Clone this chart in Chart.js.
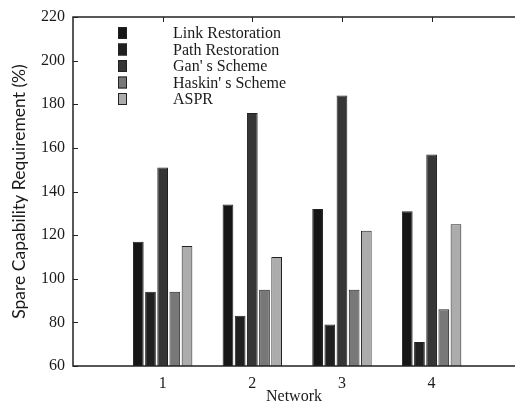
<!DOCTYPE html>
<html>
<head>
<meta charset="utf-8">
<script src="https://cdn.jsdelivr.net/npm/chart.js@4/dist/chart.umd.min.js"></script>
<style>
  html, body { margin: 0; padding: 0; background: #fff; }
  #wrap { width: 515px; height: 406px; position: relative; }
</style>
</head>
<body>
<div id="wrap"><canvas id="chart"></canvas></div>
<script>
const networks = [1, 2, 3, 4];
const seriesNames = ["Link Restoration", "Path Restoration", "Gan' s Scheme", "Haskin' s Scheme", "ASPR"];
const linkRestoration = [117, 134, 132, 131];
const pathRestoration = [94, 83, 79, 71];
const gansScheme = [151, 176, 184, 157];
const haskinsScheme = [94, 95, 95, 86];
const aspr = [115, 110, 122, 125];
const yTicks = [60, 80, 100, 120, 140, 160, 180, 200, 220];

const seriesValues = [linkRestoration, pathRestoration, gansScheme, haskinsScheme, aspr];
const fills = ["#161616", "#202020", "#363636", "#787878", "#acacac"];

const serif = "'Liberation Serif', 'Times New Roman', serif";

// frame, inward ticks and the boxed legend
const framePlugin = {
  id: "frame",
  afterDraw(chart) {
    const ctx = chart.ctx;
    const a = chart.chartArea;
    const xs = chart.scales.x, ys = chart.scales.y;
    ctx.save();
    ctx.strokeStyle = "#222";
    ctx.lineWidth = 1.5;
    ctx.beginPath();
    ctx.moveTo(a.right, a.top); ctx.lineTo(a.left, a.top);
    ctx.lineTo(a.left, a.bottom); ctx.lineTo(a.right, a.bottom);
    ctx.stroke();
    ctx.lineWidth = 1;
    ctx.beginPath();
    yTicks.forEach(v => {
      const py = Math.round(ys.getPixelForValue(v)) + 0.5;
      ctx.moveTo(a.left, py); ctx.lineTo(a.left + 5, py);
    });
    networks.forEach(n => {
      const px = Math.round(xs.getPixelForValue(n)) + 0.5;
      ctx.moveTo(px, a.top); ctx.lineTo(px, a.top + 5);
    });
    ctx.stroke();

    // legend
    ctx.font = "16px " + serif;
    ctx.textBaseline = "middle";
    chart.data.datasets.forEach((ds, i) => {
      const cy = 33 + i * 16.5;
      ctx.fillStyle = ds.backgroundColor;
      ctx.fillRect(118, cy - 6, 9, 12);
      ctx.strokeStyle = "#222";
      ctx.strokeRect(118.5, cy - 5.5, 8, 11);
      ctx.fillStyle = "#1a1a1a";
      ctx.fillText(ds.label, 173, cy + 1);
    });
    ctx.restore();
  }
};

new Chart(document.getElementById("chart"), {
  type: "bar",
  data: {
    datasets: seriesNames.map((name, i) => ({
      label: name,
      data: networks.map((n, j) => ({ x: n, y: seriesValues[i][j] })),
      backgroundColor: fills[i],
      borderColor: "#222",
      borderWidth: 1,
      categoryPercentage: 0.73,
      barPercentage: 0.88
    }))
  },
  options: {
    responsive: true,
    maintainAspectRatio: false,
    animation: false,
    layout: { padding: { top: 17, right: 0, left: 0, bottom: 0 } },
    plugins: {
      legend: { display: false },
      tooltip: { enabled: false }
    },
    scales: {
      x: {
        type: "linear",
        offset: false,
        min: 0,
        max: 4.93,
        grid: { display: false, drawTicks: false, offset: false },
        border: { display: false },
        ticks: {
          stepSize: 1,
          padding: 8,
          color: "#1a1a1a",
          font: { family: serif, size: 16 },
          callback: v => (Number.isInteger(v) && v > 0 ? String(v) : "")
        },
        title: {
          display: true,
          text: "Network",
          color: "#1a1a1a",
          font: { family: serif, size: 16 },
          padding: 0
        },
        afterFit: s => { s.height = 40; s.paddingRight = 0; s.paddingLeft = 0; }
      },
      y: {
        min: 60,
        max: 220,
        grid: { display: false, drawTicks: false },
        border: { display: false },
        ticks: {
          stepSize: 20,
          padding: 8,
          color: "#1a1a1a",
          font: { family: serif, size: 16 }
        },
        title: {
          display: true,
          text: "Spare Capability Requirement (%)",
          color: "#1a1a1a",
          font: { family: "Lato, sans-serif", size: 17.5 },
          padding: { top: 9, bottom: 0 }
        },
        afterFit: s => { s.width = 73; s.paddingTop = 0; s.paddingBottom = 0; }
      }
    }
  },
  plugins: [framePlugin]
});
</script>
</body>
</html>
